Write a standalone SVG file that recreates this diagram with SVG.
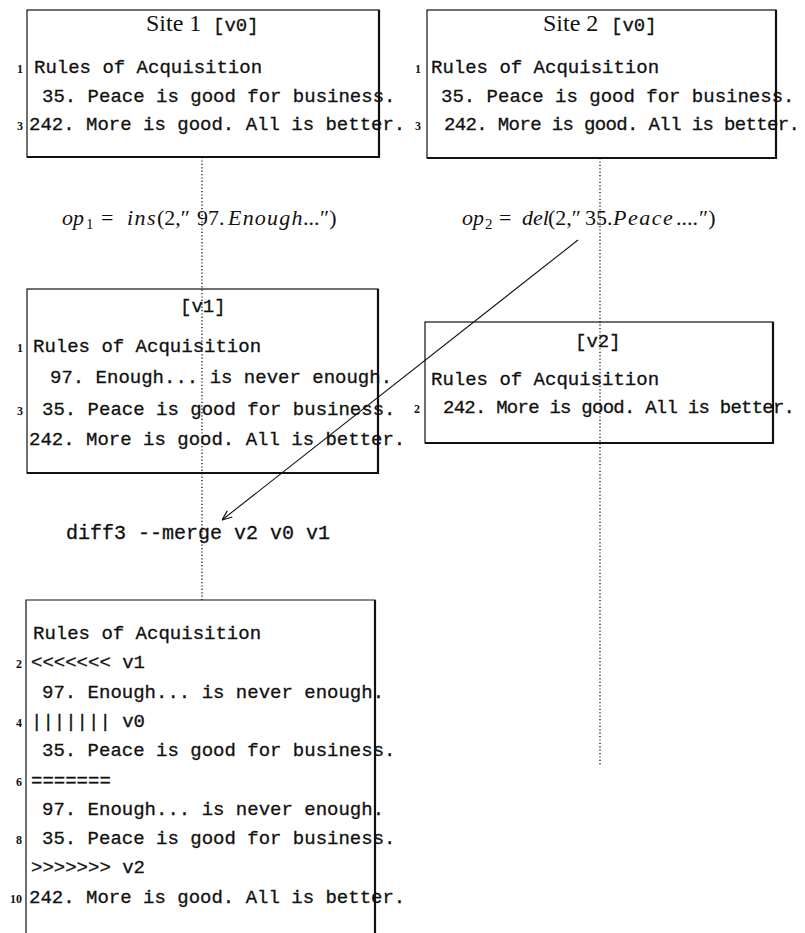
<svg xmlns="http://www.w3.org/2000/svg" width="805" height="933" viewBox="0 0 805 933">
<defs>
<style>
.box{fill:none;stroke:#111;stroke-width:1.2}
.sh{fill:none;stroke:#111;stroke-width:2.2}
.tt{font-family:"Liberation Mono",monospace;font-size:19px;fill:#111;stroke:#111;stroke-width:0.3}
.title{font-family:"Liberation Serif",serif;font-size:24px;fill:#111}
.num{font-family:"Liberation Serif",serif;font-size:12px;font-weight:bold;fill:#111;text-anchor:end}
.math{font-family:"Liberation Serif",serif;font-size:22px;fill:#111}
.it{font-style:italic}
.sub{font-size:15px}
.dot{fill:none;stroke:#111;stroke-width:1.3;stroke-dasharray:1.2 2.2}
.arr{fill:none;stroke:#111;stroke-width:1.1}
.big{font-size:20px}
</style>
<marker id="ah" viewBox="0 0 10 10" refX="10" refY="5" markerWidth="10" markerHeight="10" markerUnits="userSpaceOnUse" orient="auto">
<path d="M0,1 L10,5 L0,9" fill="none" stroke="#111" stroke-width="1.2"/>
</marker>
</defs>
<rect width="805" height="933" fill="#fff"/>

<g id="site1">
<rect class="box" x="27" y="10" width="352" height="147"/>
<path class="sh" d="M379,10 V157 H27"/>
<text class="title" x="146" y="31">Site 1</text>
<text class="tt" x="213" y="31">[v0]</text>
<text class="num" x="23" y="73">1</text>
<text class="num" x="23" y="130">3</text>
<text class="tt" x="34" y="73">Rules of Acquisition</text>
<text class="tt" x="42" y="102">35. Peace is good for business.</text>
<text class="tt" x="29" y="130">242. More is good. All is better.</text>
</g>

<g id="site2">
<rect class="box" x="427" y="10" width="349" height="148"/>
<path class="sh" d="M776,10 V158 H427"/>
<text class="title" x="543" y="31">Site 2</text>
<text class="tt" x="611" y="31">[v0]</text>
<text class="num" x="421" y="73">1</text>
<text class="num" x="421" y="130">3</text>
<text class="tt" x="431" y="73">Rules of Acquisition</text>
<text class="tt" x="441" y="102">35. Peace is good for business.</text>
<text class="tt" x="444" y="130" textLength="356" lengthAdjust="spacing">242. More is good. All is better.</text>
</g>

<g id="op1">
<text class="math" y="225"><tspan x="62" class="it">op</tspan><tspan x="86" dy="4" class="sub">1</tspan><tspan x="101" dy="-4">=</tspan><tspan x="127" class="it" letter-spacing="1.5">ins</tspan><tspan x="157">(2,″</tspan><tspan x="197">97.</tspan><tspan x="228" class="it" letter-spacing="1.2">Enough</tspan><tspan x="303">...</tspan><tspan x="320">″)</tspan></text>
</g>

<g id="op2">
<text class="math" y="225"><tspan x="462" class="it">op</tspan><tspan x="485" dy="4" class="sub">2</tspan><tspan x="499" dy="-4">=</tspan><tspan x="522" class="it">del</tspan><tspan x="548">(2,″</tspan><tspan x="585">35.</tspan><tspan x="613" class="it" letter-spacing="1.5">Peace</tspan><tspan x="676">....</tspan><tspan x="699">″)</tspan></text>
</g>

<g id="v1">
<rect class="box" x="27" y="289" width="351" height="184"/>
<path class="sh" d="M378,289 V473 H27"/>
<text class="tt" x="180" y="312">[v1]</text>
<text class="num" x="23" y="352">1</text>
<text class="num" x="23" y="415">3</text>
<text class="tt" x="33" y="352">Rules of Acquisition</text>
<text class="tt" x="50" y="383">97. Enough... is never enough.</text>
<text class="tt" x="42" y="415">35. Peace is good for business.</text>
<text class="tt" x="29" y="445">242. More is good. All is better.</text>
</g>

<g id="v2">
<rect class="box" x="425" y="322" width="348" height="121"/>
<path class="sh" d="M773,322 V443 H425"/>
<text class="tt" x="575" y="347">[v2]</text>
<text class="num" x="420" y="413">2</text>
<text class="tt" x="431" y="385">Rules of Acquisition</text>
<text class="tt" x="443" y="413" textLength="352" lengthAdjust="spacing">242. More is good. All is better.</text>
</g>

<g id="diff3">
<text class="tt big" x="66" y="539">diff3 --merge v2 v0 v1</text>
</g>

<g id="merged">
<path class="box" d="M26,933 V600 H375 V933"/>
<path class="sh" d="M375,600 V933"/>
<text class="num" x="22" y="668">2</text>
<text class="num" x="22" y="727">4</text>
<text class="num" x="22" y="786">6</text>
<text class="num" x="22" y="844">8</text>
<text class="num" x="22" y="903">10</text>
<text class="tt" x="33" y="639">Rules of Acquisition</text>
<text class="tt" x="31" y="668">&lt;&lt;&lt;&lt;&lt;&lt;&lt; v1</text>
<text class="tt" x="42" y="698">97. Enough... is never enough.</text>
<text class="tt" x="31" y="727">||||||| v0</text>
<text class="tt" x="42" y="756">35. Peace is good for business.</text>
<text class="tt" x="31" y="786">=======</text>
<text class="tt" x="42" y="815">97. Enough... is never enough.</text>
<text class="tt" x="42" y="844">35. Peace is good for business.</text>
<text class="tt" x="31" y="873">&gt;&gt;&gt;&gt;&gt;&gt;&gt; v2</text>
<text class="tt" x="29" y="903">242. More is good. All is better.</text>
</g>

<g id="connectors">
<path class="dot" d="M202,157 V600"/>
<path class="dot" d="M600,158 V765"/>
<path class="arr" d="M578,240 L222,520" marker-end="url(#ah)"/>
</g>
</svg>
